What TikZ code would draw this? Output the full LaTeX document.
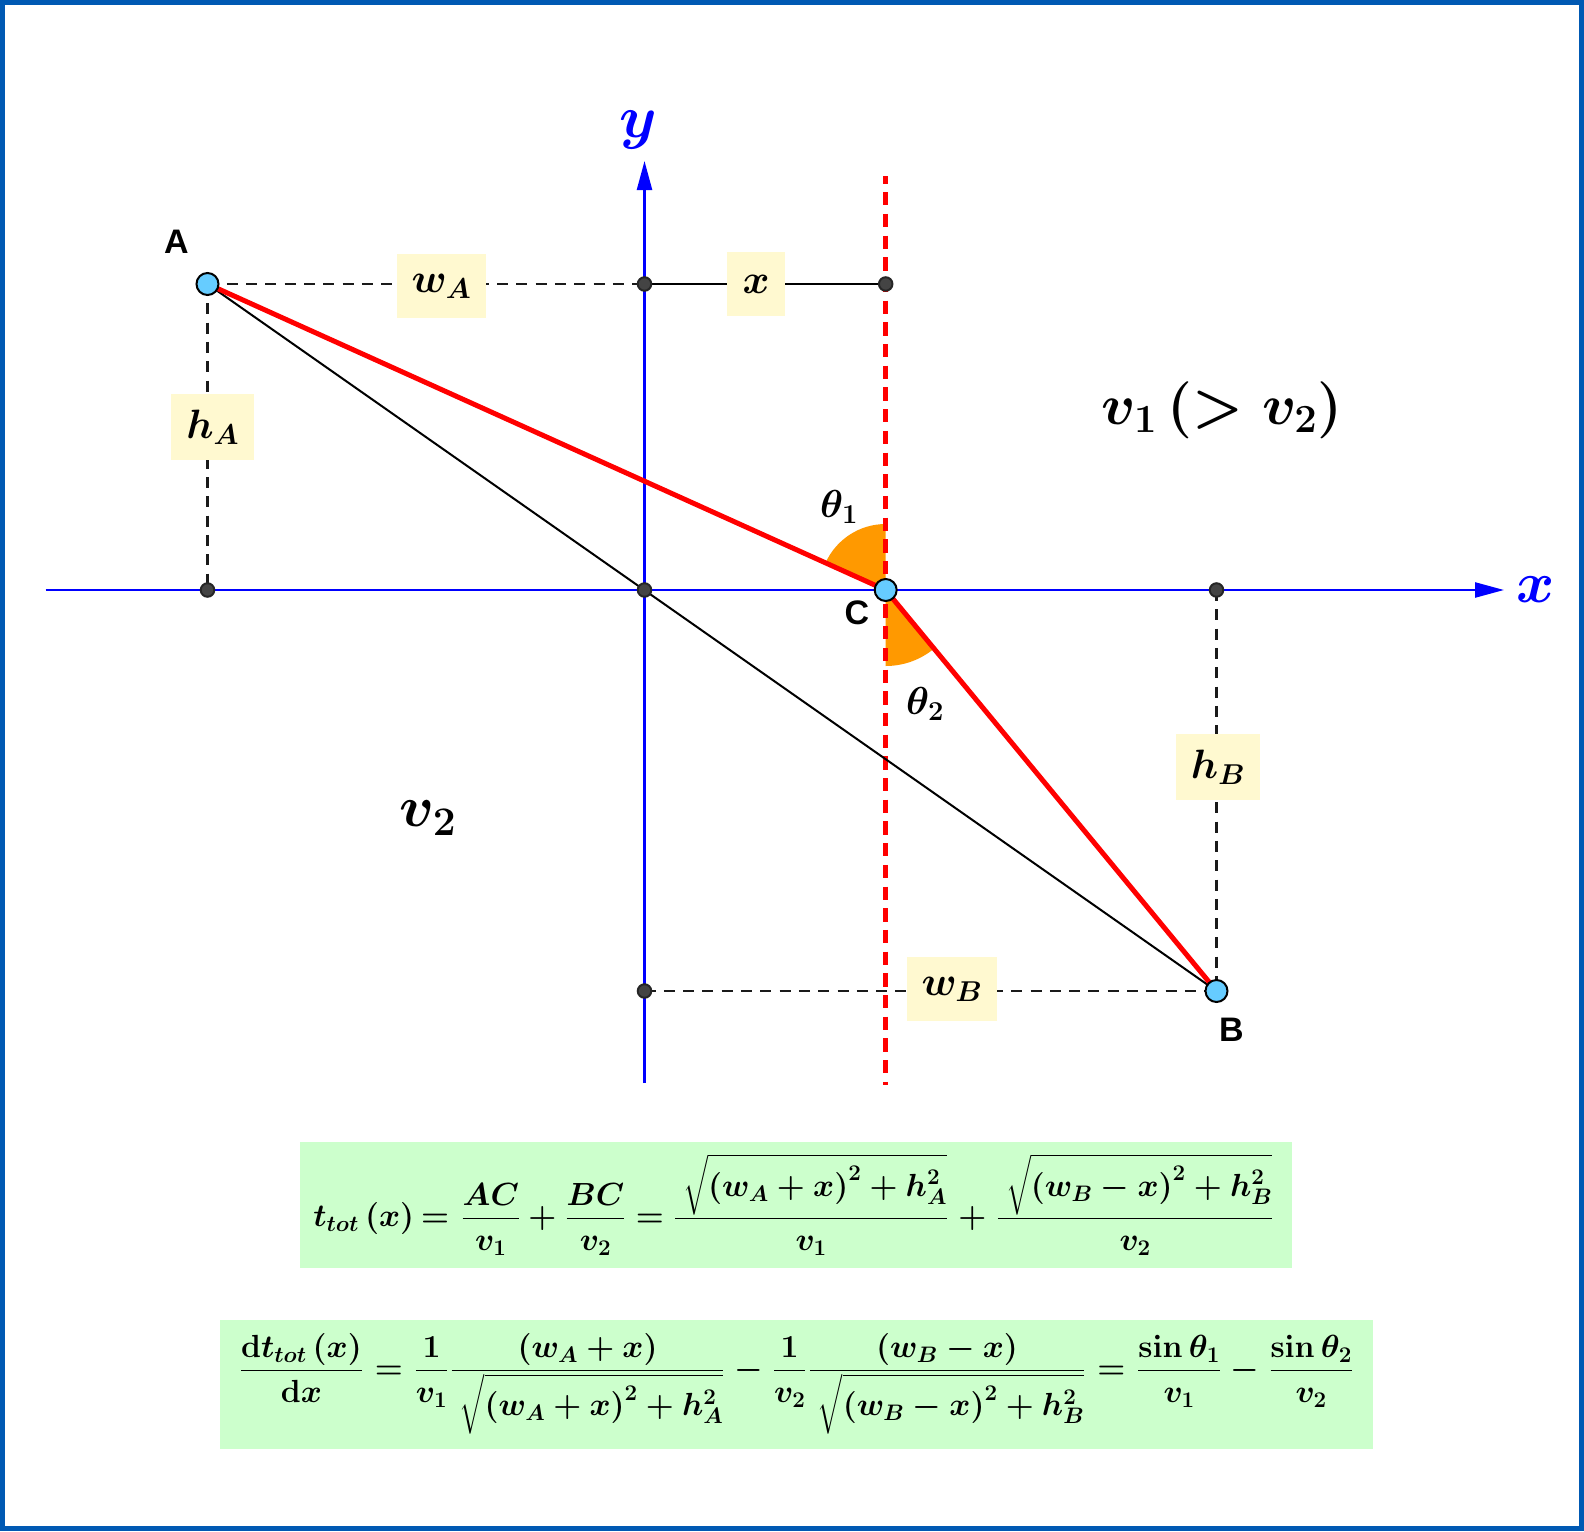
\documentclass[tikz,border=0pt]{standalone}
\usepackage{fix-cm}
\usepackage{amsmath}
\usepackage[no-math]{fontspec}
\newfontfamily\lblfont{Liberation Sans}
\usetikzlibrary{arrows.meta,backgrounds}
\definecolor{frameblue}{HTML}{0059B3}
\definecolor{ptblue}{HTML}{66CCFF}
\definecolor{ptgray}{HTML}{444444}
\definecolor{sector}{HTML}{FF9900}
\definecolor{lblbox}{HTML}{FFF9D0}
\definecolor{eqbox}{HTML}{CCFFCC}
\definecolor{axisblue}{HTML}{0000FF}
\definecolor{guideink}{HTML}{1A1A1A}
\newcommand{\bfm}[2]{{\fontsize{#1}{#1}\selectfont\boldmath$#2$}}
\newcommand{\radA}[1]{\mkern4mu\sqrt{#1\rule[-14pt]{0pt}{48pt}}}
\newcommand{\nm}[1]{\raisebox{-3pt}[\height][0pt]{$\textstyle #1$}}
\newcommand{\gp}{\mkern0.8mu}
\tikzset{
  ptmain/.style={circle,draw=black,fill=ptblue,line width=2pt,minimum size=22pt,inner sep=0pt},
  ptsmall/.style={circle,draw=black!85,fill=ptgray,line width=2pt,minimum size=13.5pt,inner sep=0pt},
  axisline/.style={axisblue,line width=2.4pt},
  axisarrow/.style={axisline,-{Triangle[length=29pt,width=15pt]}},
  guide/.style={guideink,line width=2.4pt,dash pattern=on 11pt off 8.3pt},
  solidthin/.style={black,line width=2pt},
  pathred/.style={red,line width=5pt},
  normalline/.style={red,line width=5pt,dash pattern=on 13.3pt off 8.4pt,dash phase=5.6pt},
  lbl/.style={fill=lblbox,inner sep=0pt,text=black},
  eq/.style={fill=eqbox,inner sep=0pt},
  eqtext/.style={inner sep=0pt,text=black,anchor=base},
  ptname/.style={font=\lblfont\bfseries\fontsize{34}{34}\selectfont,inner sep=0pt},
  free/.style={inner sep=0pt,text=black}
}
\begin{document}
\begin{tikzpicture}[x=1pt,y=-1pt]
\useasboundingbox (0,0) rectangle (1584,1531);

% free ends
\coordinate (xs) at (45.5,590);
\coordinate (xe) at (1504,590);
\coordinate (ys) at (644.5,1083);
\coordinate (ye) at (644.5,161);
\coordinate (ns) at (885.7,176);
\coordinate (ne) at (885.7,1085);

% points
\node[ptmain] (A) at (207.5,284) {};
\node[ptmain] (B) at (1216.5,991) {};
\node[ptmain] (C) at (885.7,590) {};
\node[ptsmall] (O) at (644.5,590) {};
\node[ptsmall] (Ax) at (207.5,590) {};
\node[ptsmall] (Bx) at (1216.5,590) {};
\node[ptsmall] (Ay) at (644.5,284) {};
\node[ptsmall] (Cy) at (885.7,284) {};
\node[ptsmall] (By) at (644.5,991) {};

\begin{scope}[on background layer]
  \fill[white] (0,0) rectangle (1584,1531);
  \draw[frameblue,line width=5pt] (2.5,2.5) rectangle (1581.5,1528.5);
  \fill[sector] (C.center) -- ++(0,-66) arc[start angle=-90,end angle=-155.7,radius=66] -- cycle;
  \fill[sector] (C.center) -- ++(0,76) arc[start angle=90,end angle=50.5,radius=76] -- cycle;
  \draw[axisarrow] (xs) -- (xe);
  \draw[axisarrow] (ys) -- (ye);
  \draw[normalline] (ns) -- (ne);
  \draw[guide] (A.center) -- (Ax.center);
  \draw[guide] (A.center) -- (Ay.center);
  \draw[solidthin] (Ay) -- (Cy);
  \draw[guide] (Bx.center) -- (B.center);
  \draw[guide] (By.center) -- (B.center);
  \draw[solidthin] (A.center) -- (B.center);
  \draw[pathred] (A.center) -- (C.center);
  \draw[pathred] (C.center) -- (B.center);
\end{scope}

% value labels
\node[lbl,minimum width=89pt,minimum height=63.5pt] (lwA) at (441.5,286) {\bfm{41}{w_A}};
\node[lbl,minimum width=58pt,minimum height=63.5pt] (lx) at (756,284) {\bfm{41}{x}};
\node[lbl,minimum width=83.5pt,minimum height=66.5pt] (lhA) at (212.7,427) {\bfm{41}{h_A}};
\node[lbl,minimum width=84pt,minimum height=66pt] (lhB) at (1218,767) {\bfm{41}{h_B}};
\node[lbl,minimum width=90pt,minimum height=64pt] (lwB) at (952,989) {\bfm{41}{w_B}};

% point names
\node[ptname] (nA) at (176.5,242) {A};
\node[ptname] (nB) at (1231.5,1030) {B};
\node[ptname] (nC) at (857,613) {C};

% axis names
\node[free,text=axisblue] (nx) at (1535.5,590) {\bfm{58}{x}};
\node[free,text=axisblue] (ny) at (638,130) {\bfm{60}{y}};

% angles and speeds
\node[free] (t1) at (839,507) {\bfm{39}{\theta_1}};
\node[free] (t2) at (925,704) {\bfm{39}{\theta_2}};
\node[free] (v1) at (1222,410) {\bfm{57}{v_1\,(>v_2)}};
\node[free] (v2) at (428,818) {\bfm{58}{v_2}};

% formulas
\node[eq,minimum width=992pt,minimum height=126pt] (eqa) at (796,1205) {};
\node[eqtext] (eqat) at (793.5,1226.5) {\bfm{32}{%
 t_{tot}\left(x\right)\mkern-1.5mu=\mkern1mu\dfrac{\nm{AC}}{v_1}+\mkern0.5mu\dfrac{\nm{BC}}{v_2}=\dfrac{\radA{\left(w_A+x\right)^2+h_A^2}}{v_1}\mkern1mu+\mkern1mu\dfrac{\radA{\left(w_B-x\right)^2+h_B^2}}{v_2}}};
\node[eq,minimum width=1153pt,minimum height=129pt] (eqb) at (796.5,1384.5) {};
\node[eqtext] (eqbt) at (796.5,1378.5) {\bfm{32}{%
 \dfrac{\nm{\mathrm{d}t_{tot}\left(x\right)}}{\mathrm{d}x}\gp=\gp\dfrac{\nm{1}}{v_1}\mkern1mu\dfrac{\nm{\left(w_A+x\right)}}{\radA{\left(w_A+x\right)^2+h_A^2}}\gp-\gp\dfrac{\nm{1}}{v_2}\mkern1mu\dfrac{\nm{\left(w_B-x\right)}}{\radA{\left(w_B-x\right)^2+h_B^2}}\gp=\gp\dfrac{\nm{\sin\theta_1}}{v_1}\gp-\gp\dfrac{\nm{\sin\theta_2}}{v_2}}};
\end{tikzpicture}
\end{document}
